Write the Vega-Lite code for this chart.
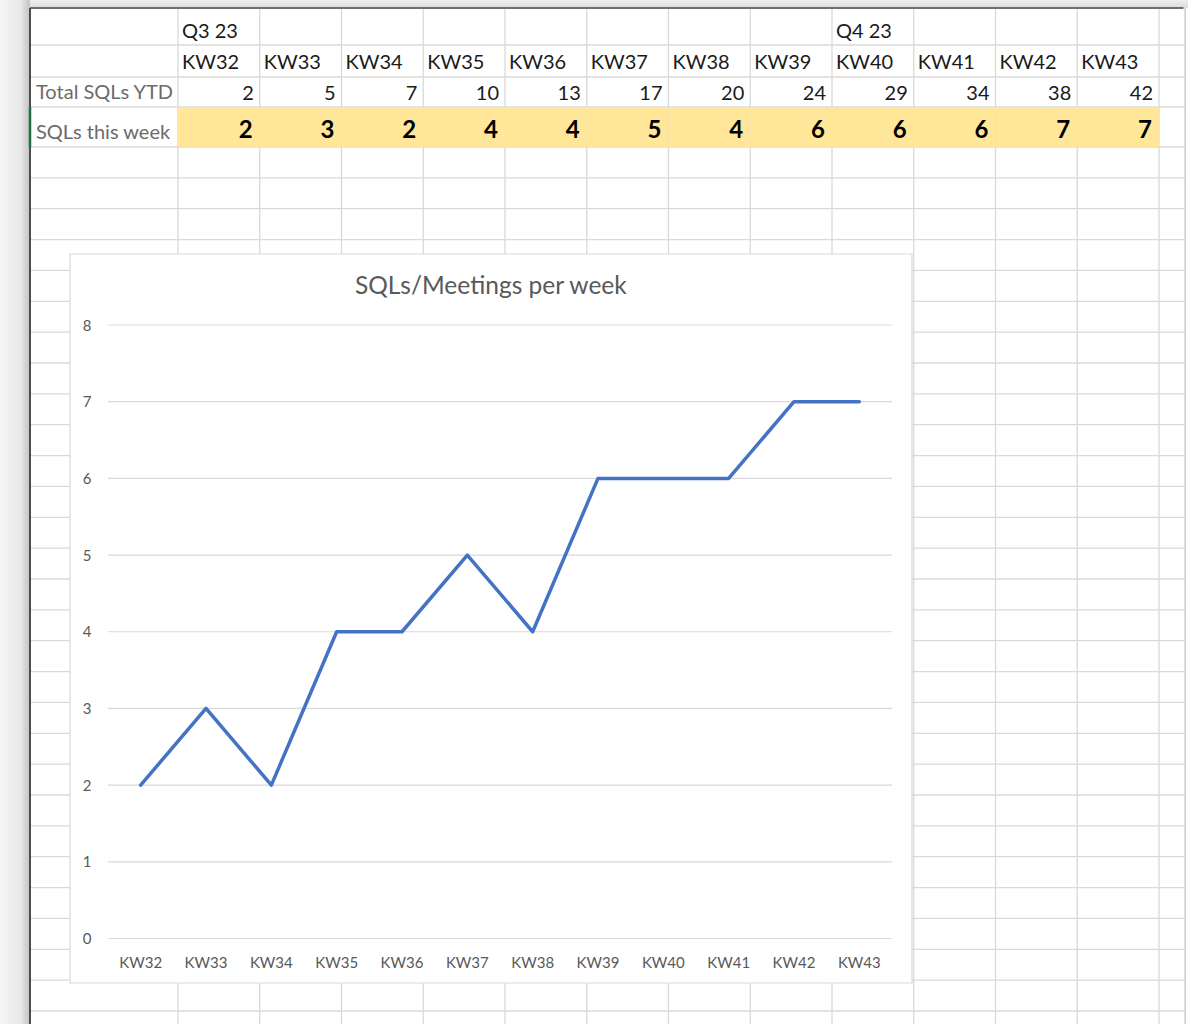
{
  "$schema": "https://vega.github.io/schema/vega-lite/v6.json",
  "width": 1188,
  "height": 1024,
  "padding": 0,
  "autosize": {"type": "none"},
  "background": "#ffffff",
  "config": {"view": {"stroke": null}, "font": "Lato", "axis": {"disable": true}},
  "datasets": {
    "weeks": [
      {"kw": 32, "week": "KW32", "q": "Q3 23", "ytd": 2, "sql": 2},
      {"kw": 33, "week": "KW33", "q": null, "ytd": 5, "sql": 3},
      {"kw": 34, "week": "KW34", "q": null, "ytd": 7, "sql": 2},
      {"kw": 35, "week": "KW35", "q": null, "ytd": 10, "sql": 4},
      {"kw": 36, "week": "KW36", "q": null, "ytd": 13, "sql": 4},
      {"kw": 37, "week": "KW37", "q": null, "ytd": 17, "sql": 5},
      {"kw": 38, "week": "KW38", "q": null, "ytd": 20, "sql": 4},
      {"kw": 39, "week": "KW39", "q": null, "ytd": 24, "sql": 6},
      {"kw": 40, "week": "KW40", "q": "Q4 23", "ytd": 29, "sql": 6},
      {"kw": 41, "week": "KW41", "q": null, "ytd": 34, "sql": 6},
      {"kw": 42, "week": "KW42", "q": null, "ytd": 38, "sql": 7},
      {"kw": 43, "week": "KW43", "q": null, "ytd": 42, "sql": 7}
    ],
    "rows": [
      {"row": 1}, {"row": 2}, {"row": 3}, {"row": 4}, {"row": 5}, {"row": 6}, {"row": 7}, {"row": 8},
      {"row": 9}, {"row": 10}, {"row": 11}, {"row": 12}, {"row": 13}, {"row": 14}, {"row": 15}, {"row": 16},
      {"row": 17}, {"row": 18}, {"row": 19}, {"row": 20}, {"row": 21}, {"row": 22}, {"row": 23}, {"row": 24},
      {"row": 25}, {"row": 26}, {"row": 27}, {"row": 28}, {"row": 29}, {"row": 30}, {"row": 31}, {"row": 32}
    ],
    "cols": [
      {"col": 1}, {"col": 2}, {"col": 3}, {"col": 4}, {"col": 5}, {"col": 6}, {"col": 7},
      {"col": 8}, {"col": 9}, {"col": 10}, {"col": 11}, {"col": 12}, {"col": 13}
    ],
    "labels": [
      {"label": "Total SQLs YTD", "row": 3},
      {"label": "SQLs this week", "row": 4}
    ],
    "ticks": [
      {"v": 0}, {"v": 1}, {"v": 2}, {"v": 3}, {"v": 4}, {"v": 5}, {"v": 6}, {"v": 7}, {"v": 8}
    ]
  },
  "layer": [
    {
      "layer": [
        {
          "data": {"values": [{}]},
          "mark": {"type": "rect", "color": {"gradient": "linear", "x1": 0, "y1": 0, "x2": 1, "y2": 0, "stops": [{"offset": 0, "color": "#f6f6f6"}, {"offset": 0.7, "color": "#e8e8e8"}, {"offset": 1, "color": "#c2c2c2"}]}},
          "encoding": {
            "x": {"datum": -0.21, "type": "quantitative", "scale": {"domain": [0, 1, 13], "range": [30, 178, 1159], "zero": false, "nice": false}},
            "x2": {"datum": 0},
            "y": {"datum": -0.25, "type": "quantitative", "scale": {"domain": [0, 1, 2, 3, 4, 32], "range": [8, 45, 77, 107, 147, 1011], "zero": false, "nice": false}},
            "y2": {"datum": 33}
          }
        },
        {
          "data": {"values": [{}]},
          "mark": {"type": "rect", "color": {"gradient": "linear", "x1": 0, "y1": 0, "x2": 0, "y2": 1, "stops": [{"offset": 0, "color": "#f1f1f1"}, {"offset": 1, "color": "#dcdcdc"}]}},
          "encoding": {
            "x": {"datum": 0, "type": "quantitative", "scale": {"domain": [0, 1, 13], "range": [30, 178, 1159], "zero": false, "nice": false}},
            "x2": {"datum": 13.5},
            "y": {"datum": -0.25, "type": "quantitative", "scale": {"domain": [0, 1, 2, 3, 4, 32], "range": [8, 45, 77, 107, 147, 1011], "zero": false, "nice": false}},
            "y2": {"datum": 0}
          }
        },
        {
          "data": {"name": "cols"},
          "mark": {"type": "rule", "color": "#d9d9d9", "strokeWidth": 1.3},
          "encoding": {
            "x": {"field": "col", "type": "quantitative", "scale": {"domain": [0, 1, 13], "range": [30, 178, 1159], "zero": false, "nice": false}},
            "y": {"datum": 0, "type": "quantitative", "scale": {"domain": [0, 1, 2, 3, 4, 32], "range": [8, 45, 77, 107, 147, 1011], "zero": false, "nice": false}},
            "y2": {"datum": 33}
          }
        },
        {
          "data": {"name": "rows"},
          "mark": {"type": "rule", "color": "#d9d9d9", "strokeWidth": 1.3},
          "encoding": {
            "x": {"datum": 0, "type": "quantitative", "scale": {"domain": [0, 1, 13], "range": [30, 178, 1159], "zero": false, "nice": false}},
            "x2": {"datum": 13.32},
            "y": {"field": "row", "type": "quantitative", "scale": {"domain": [0, 1, 2, 3, 4, 32], "range": [8, 45, 77, 107, 147, 1011], "zero": false, "nice": false}}
          }
        },
        {
          "data": {"values": [{}]},
          "mark": {"type": "rule", "color": "#cccccc", "strokeWidth": 1.5},
          "encoding": {
            "x": {"datum": 13.32, "type": "quantitative", "scale": {"domain": [0, 1, 13], "range": [30, 178, 1159], "zero": false, "nice": false}},
            "y": {"datum": 0, "type": "quantitative", "scale": {"domain": [0, 1, 2, 3, 4, 32], "range": [8, 45, 77, 107, 147, 1011], "zero": false, "nice": false}},
            "y2": {"datum": 33}
          }
        },
        {
          "data": {"values": [{}]},
          "mark": {"type": "rule", "color": "#6e6e6e", "strokeWidth": 2},
          "encoding": {
            "x": {"datum": 0, "type": "quantitative", "scale": {"domain": [0, 1, 13], "range": [30, 178, 1159], "zero": false, "nice": false}},
            "x2": {"datum": 13.3},
            "y": {"datum": 0, "type": "quantitative", "scale": {"domain": [0, 1, 2, 3, 4, 32], "range": [8, 45, 77, 107, 147, 1011], "zero": false, "nice": false}}
          }
        },
        {
          "data": {"values": [{}]},
          "mark": {"type": "rule", "color": "#4d4d4d", "strokeWidth": 2},
          "encoding": {
            "x": {"datum": 0, "type": "quantitative", "scale": {"domain": [0, 1, 13], "range": [30, 178, 1159], "zero": false, "nice": false}},
            "y": {"datum": 0, "type": "quantitative", "scale": {"domain": [0, 1, 2, 3, 4, 32], "range": [8, 45, 77, 107, 147, 1011], "zero": false, "nice": false}},
            "y2": {"datum": 33}
          }
        },
        {
          "data": {"values": [{}]},
          "mark": {"type": "rule", "color": "#1e7145", "strokeWidth": 2.5},
          "encoding": {
            "x": {"datum": 0, "type": "quantitative", "scale": {"domain": [0, 1, 13], "range": [30, 178, 1159], "zero": false, "nice": false}},
            "y": {"datum": 3, "type": "quantitative", "scale": {"domain": [0, 1, 2, 3, 4, 32], "range": [8, 45, 77, 107, 147, 1011], "zero": false, "nice": false}},
            "y2": {"datum": 4}
          }
        },
        {
          "data": {"name": "labels"},
          "mark": {"type": "text", "align": "left", "baseline": "alphabetic", "dx": 6, "dy": -8, "fontSize": 20, "color": "#6b6b6b"},
          "encoding": {
            "x": {"datum": 0, "type": "quantitative", "scale": {"domain": [0, 1, 13], "range": [30, 178, 1159], "zero": false, "nice": false}},
            "y": {"field": "row", "type": "quantitative", "scale": {"domain": [0, 1, 2, 3, 4, 32], "range": [8, 45, 77, 107, 147, 1011], "zero": false, "nice": false}},
            "text": {"field": "label"}
          }
        }
      ]
    },
    {
      "data": {"name": "weeks"},
      "layer": [
        {
          "mark": {"type": "rect", "color": "#FFE699"},
          "encoding": {
            "x": {"field": "week", "type": "ordinal", "scale": {"type": "band", "range": [178, 1159], "paddingInner": 0, "paddingOuter": 0}},
            "y": {"datum": 3, "type": "quantitative", "scale": {"domain": [0, 1, 2, 3, 4, 32], "range": [8, 45, 77, 107, 147, 1011], "zero": false, "nice": false}},
            "y2": {"datum": 4}
          }
        },
        {
          "transform": [{"filter": "isValid(datum.q)"}],
          "mark": {"type": "text", "align": "left", "baseline": "alphabetic", "dx": 4, "dy": -7, "fontSize": 20, "color": "#1a1a1a"},
          "encoding": {
            "x": {"field": "week", "type": "ordinal", "bandPosition": 0, "scale": {"type": "band", "range": [178, 1159], "paddingInner": 0, "paddingOuter": 0}},
            "y": {"datum": 1, "type": "quantitative", "scale": {"domain": [0, 1, 2, 3, 4, 32], "range": [8, 45, 77, 107, 147, 1011], "zero": false, "nice": false}},
            "text": {"field": "q"}
          }
        },
        {
          "mark": {"type": "text", "align": "left", "baseline": "alphabetic", "dx": 4, "dy": -8, "fontSize": 20, "color": "#1a1a1a"},
          "encoding": {
            "x": {"field": "week", "type": "ordinal", "bandPosition": 0, "scale": {"type": "band", "range": [178, 1159], "paddingInner": 0, "paddingOuter": 0}},
            "y": {"datum": 2, "type": "quantitative", "scale": {"domain": [0, 1, 2, 3, 4, 32], "range": [8, 45, 77, 107, 147, 1011], "zero": false, "nice": false}},
            "text": {"field": "week"}
          }
        },
        {
          "mark": {"type": "text", "align": "right", "baseline": "alphabetic", "dx": -6, "dy": -7, "fontSize": 20, "color": "#1a1a1a"},
          "encoding": {
            "x": {"field": "week", "type": "ordinal", "bandPosition": 1, "scale": {"type": "band", "range": [178, 1159], "paddingInner": 0, "paddingOuter": 0}},
            "y": {"datum": 3, "type": "quantitative", "scale": {"domain": [0, 1, 2, 3, 4, 32], "range": [8, 45, 77, 107, 147, 1011], "zero": false, "nice": false}},
            "text": {"field": "ytd"}
          }
        },
        {
          "mark": {"type": "text", "align": "right", "baseline": "alphabetic", "dx": -7, "dy": -9, "fontSize": 24, "fontWeight": "bold", "color": "#000000"},
          "encoding": {
            "x": {"field": "week", "type": "ordinal", "bandPosition": 1, "scale": {"type": "band", "range": [178, 1159], "paddingInner": 0, "paddingOuter": 0}},
            "y": {"datum": 4, "type": "quantitative", "scale": {"domain": [0, 1, 2, 3, 4, 32], "range": [8, 45, 77, 107, 147, 1011], "zero": false, "nice": false}},
            "text": {"field": "sql"}
          }
        }
      ]
    },
    {
      "layer": [
        {
          "data": {"values": [{}]},
          "mark": {"type": "rect", "fill": "#ffffff", "stroke": "#d9d9d9", "strokeWidth": 1.2},
          "encoding": {
            "x": {"datum": 30.918, "type": "quantitative", "scale": {"domain": [31.5, 43.5], "range": [108, 892], "zero": false, "nice": false}},
            "x2": {"datum": 43.806},
            "y": {"datum": 8.926, "type": "quantitative", "scale": {"domain": [0, 8], "range": [938.5, 325], "zero": false, "nice": false}},
            "y2": {"datum": -0.58}
          }
        },
        {
          "data": {"name": "ticks"},
          "mark": {"type": "rule", "color": "#d9d9d9", "strokeWidth": 1.2},
          "encoding": {
            "x": {"datum": 31.5, "type": "quantitative", "scale": {"domain": [31.5, 43.5], "range": [108, 892], "zero": false, "nice": false}},
            "x2": {"datum": 43.5},
            "y": {"field": "v", "type": "quantitative", "scale": {"domain": [0, 8], "range": [938.5, 325], "zero": false, "nice": false}}
          }
        },
        {
          "data": {"name": "ticks"},
          "mark": {"type": "text", "align": "center", "baseline": "alphabetic", "dx": -21, "dy": 5.5, "fontSize": 15, "color": "#595959"},
          "encoding": {
            "x": {"datum": 31.5, "type": "quantitative", "scale": {"domain": [31.5, 43.5], "range": [108, 892], "zero": false, "nice": false}},
            "y": {"field": "v", "type": "quantitative", "scale": {"domain": [0, 8], "range": [938.5, 325], "zero": false, "nice": false}},
            "text": {"field": "v"}
          }
        },
        {
          "data": {"name": "weeks"},
          "mark": {"type": "text", "align": "center", "baseline": "alphabetic", "dy": 29, "fontSize": 15, "letterSpacing": 0.5, "color": "#595959"},
          "encoding": {
            "x": {"field": "kw", "type": "quantitative", "scale": {"domain": [31.5, 43.5], "range": [108, 892], "zero": false, "nice": false}},
            "y": {"datum": 0, "type": "quantitative", "scale": {"domain": [0, 8], "range": [938.5, 325], "zero": false, "nice": false}},
            "text": {"field": "week"}
          }
        },
        {
          "data": {"name": "weeks"},
          "mark": {"type": "line", "color": "#4472C4", "strokeWidth": 3.5, "strokeJoin": "round", "strokeCap": "round"},
          "encoding": {
            "x": {"field": "kw", "type": "quantitative", "scale": {"domain": [31.5, 43.5], "range": [108, 892], "zero": false, "nice": false}},
            "y": {"field": "sql", "type": "quantitative", "scale": {"domain": [0, 8], "range": [938.5, 325], "zero": false, "nice": false}}
          }
        },
        {
          "data": {"values": [{"title": "SQLs/Meetings per week"}]},
          "mark": {"type": "text", "align": "center", "baseline": "alphabetic", "fontSize": 24.5, "color": "#595959"},
          "encoding": {
            "x": {"datum": 37.36, "type": "quantitative", "scale": {"domain": [31.5, 43.5], "range": [108, 892], "zero": false, "nice": false}},
            "y": {"datum": 8.4, "type": "quantitative", "scale": {"domain": [0, 8], "range": [938.5, 325], "zero": false, "nice": false}},
            "text": {"field": "title"}
          }
        }
      ]
    }
  ],
  "resolve": {"scale": {"x": "independent", "y": "independent"}}
}
